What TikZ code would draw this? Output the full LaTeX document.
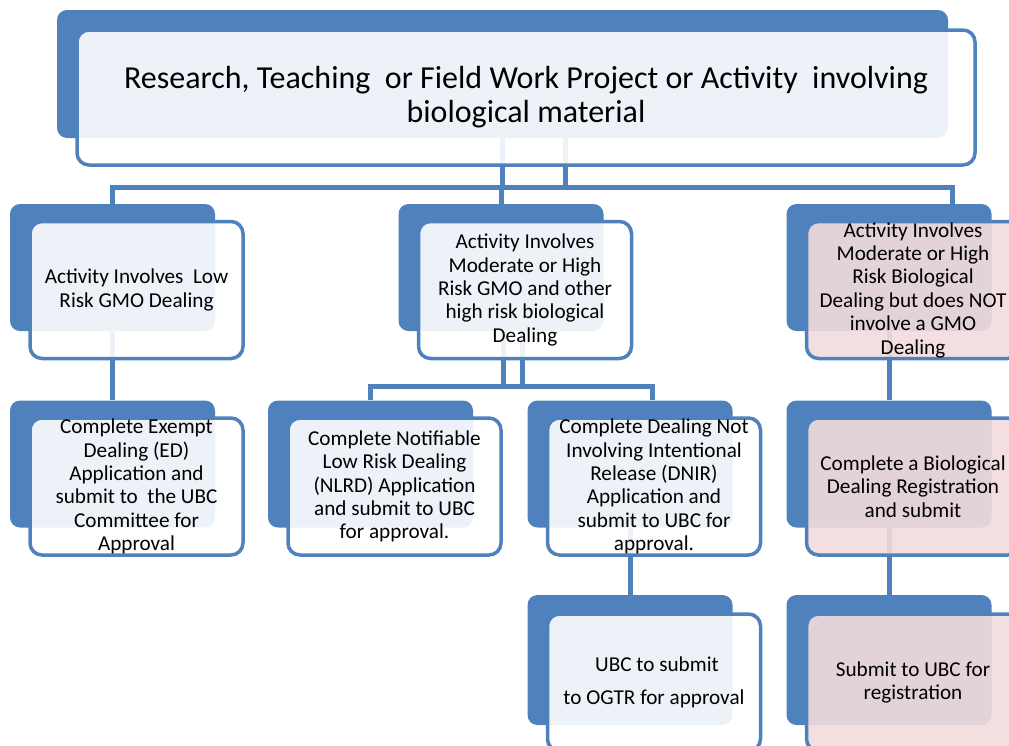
\documentclass[tikz,border=0pt]{standalone}
\usepackage{fontspec}
\setmainfont{Carlito}
\usepackage{tikz}
\usetikzlibrary{positioning, calc}
\definecolor{smblue}{RGB}{79,129,189}
\definecolor{smpink}{RGB}{242,220,219}

\begin{document}
\begin{tikzpicture}[
  x=1pt, y=-1pt,
  back/.style={rectangle, fill=smblue, rounded corners=10pt,
               minimum width=205pt, minimum height=127pt, inner sep=0pt},
  front/.style={rectangle, draw=smblue, line width=3.5pt, fill=white, fill opacity=0.9,
                rounded corners=12pt, minimum width=213pt, minimum height=137pt, inner sep=0pt},
  pinkfront/.style={front, fill=smpink},
  txt/.style={font=\fontsize{21.2}{23.4}\selectfont, align=center, inner sep=0pt},
  link/.style={draw=smblue, line width=5pt},
  offset/.style={shift={(24,22.5)}},
]
\useasboundingbox (0,0) rectangle (1009,745);
\clip (0,0) rectangle (1009,745);

% Back plates
\node[back, minimum width=891pt, minimum height=128pt] (topback) at (502.5,74) {};
\node[back] (c1back) at (112.5,267.5) {};
\node[back] (c2back) at (501,267.5) {};
\node[back] (c3back) at (889,267.5) {};
\node[back] (g1back) at (112.5,464) {};
\node[back] (g2back) at (370.5,464) {};
\node[back] (g3back) at (630,464) {};
\node[back] (g4back) at (889,464) {};
\node[back, minimum height=130pt] (r1back) at (630,660) {};
\node[back, minimum height=130pt] (r2back) at (889,660) {};

% Connectors
\draw[link] (topback.south) -- ++(0,49) -| (c1back.north);
\draw[link] ([xshift=63pt]topback.south) -- ++(0,49) -| (c2back.north);
\draw[link] ([xshift=63pt]topback.south) -- ++(0,49) -| ([xshift=63pt]c3back.north);
\draw[link] (c1back.south) -- (g1back.north);
\draw[link] ([xshift=21pt]c2back.south) -- ++(0,55) -| (g2back.north);
\draw[link] ([xshift=2pt]c2back.south) -- ++(0,55) -| ([xshift=22pt]g3back.north);
\draw[link] (c3back.south) -- (g4back.north);
\draw[link] (g3back.south) -- (r1back.north);
\draw[link] (g4back.south) -- (r2back.north);

% Front boxes
\node[front, minimum width=898pt, minimum height=135pt] (top) at ([shift={(23.5,23.5)}]topback.center) {};
\node[front] (c1) at ([offset]c1back.center) {};
\node[front] (c2) at ([offset]c2back.center) {};
\node[pinkfront] (c3) at ([offset]c3back.center) {};
\node[front] (g1) at ([offset]g1back.center) {};
\node[front] (g2) at ([offset]g2back.center) {};
\node[front] (g3) at ([offset]g3back.center) {};
\node[pinkfront] (g4) at ([offset]g4back.center) {};
\node[front] (r1) at ([offset]r1back.center) {};
\node[pinkfront] (r2) at ([offset]r2back.center) {};

% Texts
\node[txt, font=\fontsize{32}{34}\selectfont] (toptxt) at (top)
  {Research, Teaching~ or Field Work Project or Activity~ involving\\biological material};
\node[txt] (c1txt) at (c1) {Activity Involves~ Low\\Risk GMO Dealing};
\node[txt] (c2txt) at (c2) {Activity Involves\\Moderate or High\\Risk GMO and other\\high risk biological\\Dealing};
\node[txt] (c3txt) at (c3) {Activity Involves\\Moderate or High\\Risk Biological\\Dealing but does NOT\\involve a GMO\\Dealing};
\node[txt] (g1txt) at (g1) {Complete Exempt\\Dealing (ED)\\Application and\\submit to~ the UBC\\Committee for\\Approval};
\node[txt] (g2txt) at (g2) {Complete Notifiable\\Low Risk Dealing\\(NLRD) Application\\and submit to UBC\\for approval.};
\node[txt] (g3txt) at (g3) {Complete Dealing Not\\Involving Intentional\\Release (DNIR)\\Application and\\submit to UBC for\\approval.};
\node[txt] (g4txt) at (g4) {Complete a Biological\\Dealing Registration\\and submit};
\node[txt] (r1txt) at (r1) {\hspace*{6pt}UBC to submit\\[9pt]to OGTR for approval};
\node[txt] (r2txt) at (r2) {Submit to UBC for\\registration};

\end{tikzpicture}
\end{document}
